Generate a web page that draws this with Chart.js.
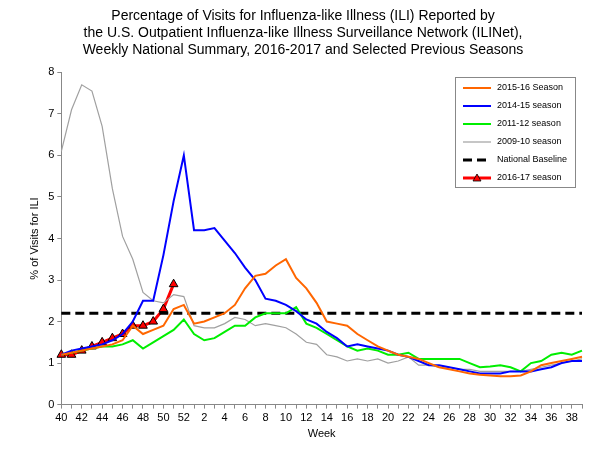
<!DOCTYPE html>
<html>
<head>
<script src="https://cdn.jsdelivr.net/npm/chart.js@4"></script>
<style>body{margin:0;background:#fff}#c{width:600px;height:450px}</style>
</head>
<body>
<div id="c"><canvas id="chart"></canvas></div>
<script>
// weeks 40..52 then 1..39
const weeks = [40,41,42,43,44,45,46,47,48,49,50,51,52,1,2,3,4,5,6,7,8,9,10,11,12,13,14,15,16,17,18,19,20,21,22,23,24,25,26,27,28,29,30,31,32,33,34,35,36,37,38,39];
const season1516 = [1.2,1.25,1.3,1.35,1.4,1.45,1.55,1.9,1.7,1.8,1.9,2.3,2.4,1.95,2.0,2.1,2.2,2.4,2.8,3.1,3.15,3.35,3.5,3.05,2.8,2.45,2.0,1.95,1.9,1.7,1.55,1.4,1.3,1.2,1.15,1.1,1.0,0.9,0.85,0.8,0.75,0.72,0.7,0.68,0.68,0.7,0.8,0.95,1.0,1.05,1.1,1.15];
const season1415 = [1.2,1.3,1.35,1.4,1.45,1.55,1.7,2.0,2.5,2.5,3.6,4.9,6.0,4.2,4.2,4.25,3.95,3.65,3.3,3.0,2.55,2.5,2.4,2.25,2.05,1.95,1.75,1.6,1.4,1.45,1.4,1.35,1.3,1.2,1.15,1.05,0.95,0.95,0.9,0.85,0.8,0.75,0.75,0.75,0.8,0.8,0.8,0.85,0.9,1.0,1.05,1.05];
const season1112 = [1.2,1.25,1.3,1.35,1.4,1.4,1.45,1.55,1.35,1.5,1.65,1.8,2.05,1.7,1.55,1.6,1.75,1.9,1.9,2.1,2.2,2.2,2.2,2.35,1.95,1.85,1.7,1.55,1.4,1.3,1.35,1.3,1.2,1.2,1.25,1.1,1.1,1.1,1.1,1.1,1.0,0.9,0.92,0.95,0.9,0.8,1.0,1.05,1.2,1.25,1.2,1.3];
const season0910 = [6.1,7.1,7.7,7.55,6.7,5.2,4.05,3.5,2.7,2.5,2.45,2.65,2.6,1.9,1.85,1.85,1.95,2.1,2.05,1.9,1.95,1.9,1.85,1.7,1.5,1.45,1.2,1.15,1.05,1.1,1.05,1.1,1.0,1.05,1.15,0.95,0.95,0.9,0.9,0.85,0.85,0.8,0.8,0.8,0.8,0.8,0.85,0.9,0.95,1.0,1.05,1.1];
const season1617 = [1.2,1.2,1.3,1.4,1.5,1.6,1.7,1.9,1.9,2.0,2.3,2.9];
const baselineValue = 2.2;
const baseline = weeks.map(() => baselineValue);

const FONT = 'Arial, "Liberation Sans", sans-serif';

// legend box drawn inside the plot, like the original
const boxLegend = {
  id: 'boxLegend',
  afterDraw(chart) {
    const ctx = chart.ctx;
    const x0 = 455, y0 = 77, w = 120, h = 110;
    ctx.save();
    ctx.fillStyle = '#fff';
    ctx.fillRect(x0, y0, w, h);
    ctx.strokeStyle = '#888';
    ctx.lineWidth = 1;
    ctx.strokeRect(x0 + 0.5, y0 + 0.5, w, h);
    ctx.font = '9px ' + FONT;
    ctx.textBaseline = 'middle';
    chart.data.datasets.forEach((ds, i) => {
      const y = y0 + 11 + i * 18;
      ctx.strokeStyle = ds.borderColor;
      ctx.lineWidth = ds.borderWidth;
      ctx.setLineDash(ds.borderDash || []);
      ctx.beginPath();
      ctx.moveTo(x0 + 8, y);
      ctx.lineTo(x0 + 36, y);
      ctx.stroke();
      ctx.setLineDash([]);
      if (ds.pointStyle === 'triangle') {
        ctx.fillStyle = 'red';
        ctx.strokeStyle = '#000';
        ctx.lineWidth = 0.8;
        ctx.beginPath();
        ctx.moveTo(x0 + 22, y - 4);
        ctx.lineTo(x0 + 26, y + 3);
        ctx.lineTo(x0 + 18, y + 3);
        ctx.closePath();
        ctx.fill();
        ctx.stroke();
      }
      ctx.fillStyle = '#000';
      ctx.fillText(ds.label, x0 + 42, y);
    });
    ctx.restore();
  }
};

new Chart(document.getElementById('chart'), {
  type: 'line',
  data: {
    labels: weeks.map(String),
    datasets: [
      { label: '2015-16 Season', data: season1516, borderColor: '#ff6600', borderWidth: 2, pointRadius: 0 },
      { label: '2014-15 season', data: season1415, borderColor: '#0000ff', borderWidth: 2, pointRadius: 0 },
      { label: '2011-12 season', data: season1112, borderColor: '#00ee00', borderWidth: 2, pointRadius: 0 },
      { label: '2009-10 season', data: season0910, borderColor: '#a0a0a0', borderWidth: 1.2, pointRadius: 0 },
      { label: 'National Baseline', data: baseline, borderColor: '#000', borderWidth: 3, borderDash: [9, 5], pointRadius: 0 },
      { label: '2016-17 season', data: season1617, borderColor: '#ff0000', borderWidth: 3, pointStyle: 'triangle', pointRadius: 5, pointBackgroundColor: '#ff0000', pointBorderColor: '#000', pointBorderWidth: 1 }
    ]
  },
  options: {
    responsive: true,
    maintainAspectRatio: false,
    animation: false,
    layout: { padding: { left: 24, right: 18, top: 6, bottom: 9 } },
    elements: { line: { tension: 0 } },
    plugins: {
      legend: { display: false },
      tooltip: { enabled: false },
      title: {
        display: true,
        text: ['Percentage of Visits for Influenza-like Illness (ILI) Reported by',
               'the U.S. Outpatient Influenza-like Illness Surveillance Network (ILINet),',
               'Weekly National Summary, 2016-2017 and Selected Previous Seasons'],
        color: '#000',
        font: { family: FONT, size: 14, weight: 'normal' },
        padding: { top: 2, bottom: 14 },
        lineHeight: 1.3
      }
    },
    scales: {
      x: {
        grid: { display: true, drawOnChartArea: false, tickLength: 4, color: '#888' },
        border: { color: '#888' },
        ticks: {
          autoSkip: false, maxRotation: 0, color: '#000', font: { family: FONT, size: 11 },
          callback: (v, i) => (i % 2 === 0 && i < 51) ? weeks[i] : ''
        },
        title: { display: true, text: 'Week', color: '#000', font: { family: FONT, size: 11 }, padding: 0 }
      },
      y: {
        min: 0, max: 8,
        grid: { display: true, drawOnChartArea: false, tickLength: 4, color: '#888' },
        border: { color: '#888' },
        ticks: { stepSize: 1, color: '#000', font: { family: FONT, size: 11 } },
        title: { display: true, text: '% of Visits for ILI', color: '#000', font: { family: FONT, size: 11 } }
      }
    }
  },
  plugins: [boxLegend]
});
</script>
</body>
</html>
